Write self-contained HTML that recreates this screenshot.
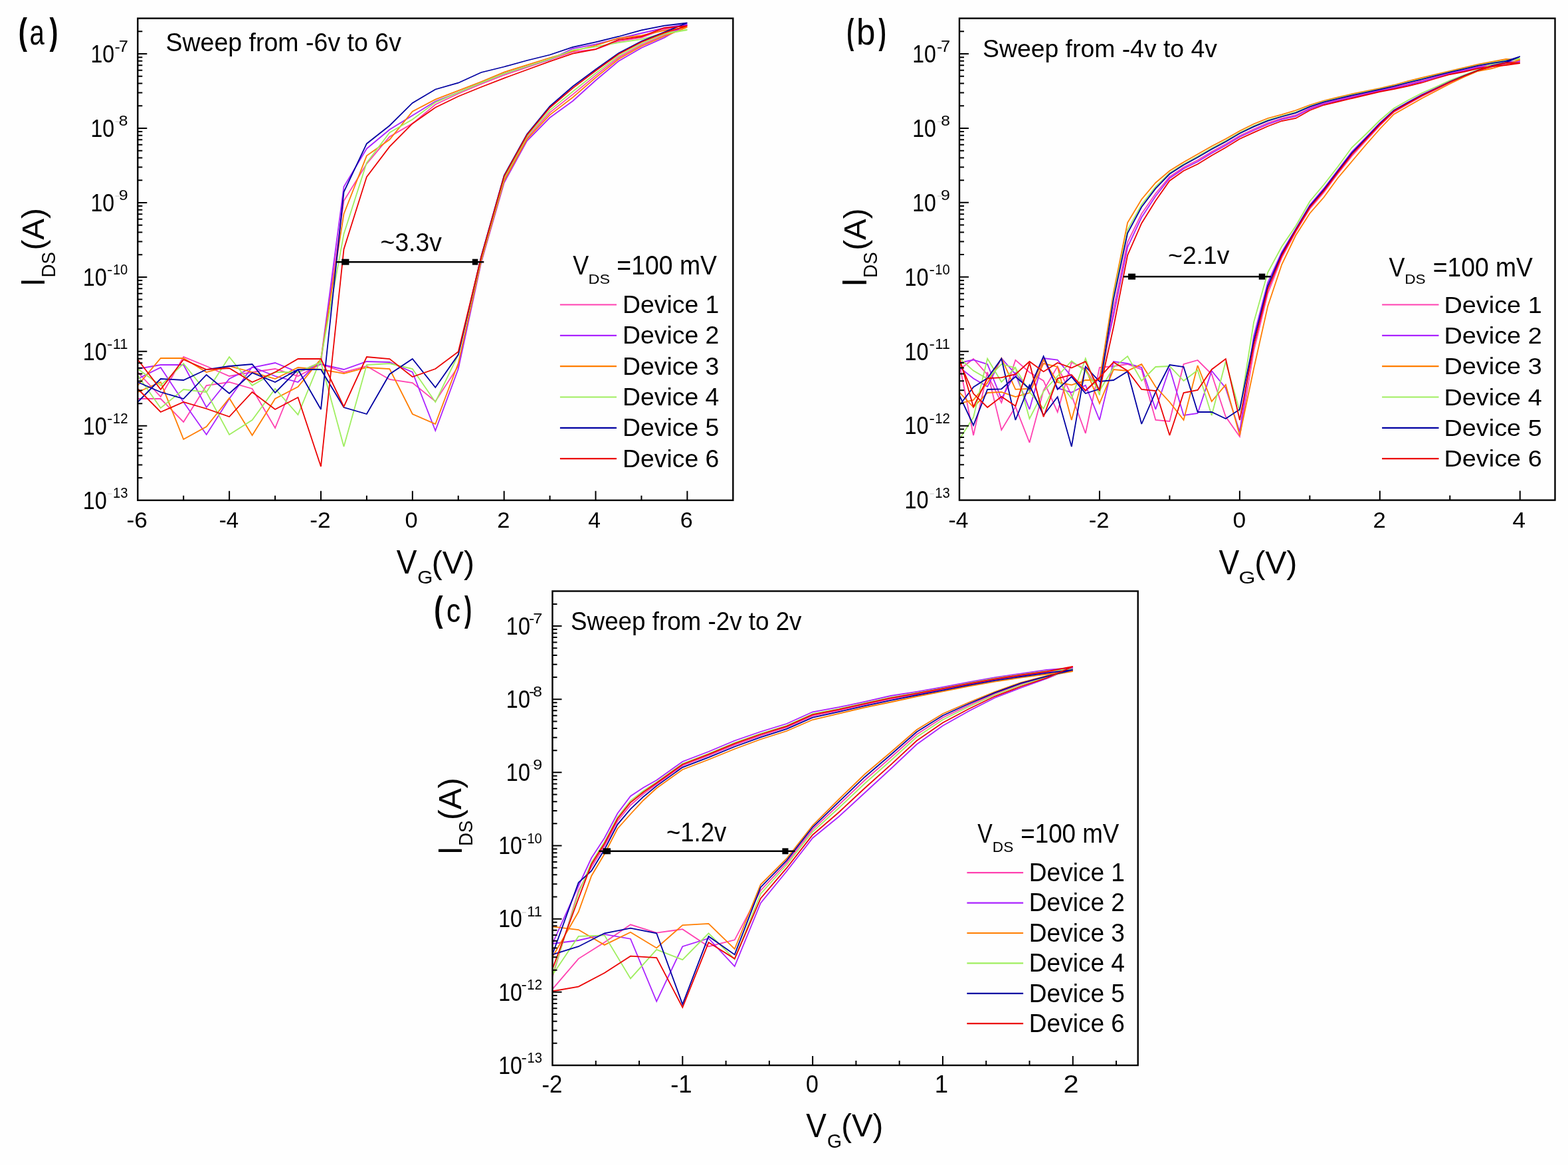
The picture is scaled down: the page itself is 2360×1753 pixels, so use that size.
<!DOCTYPE html>
<html><head><meta charset="utf-8"><title>Transfer curves</title>
<style>html,body{margin:0;padding:0;background:#fefefe;width:2360px;height:1753px;overflow:hidden;} svg{display:block;}</style>
</head><body><svg width="2360" height="1753" viewBox="0 0 2360 1753"><rect width="2360" height="1753" fill="#fefefe"/><path d="M207.3 560.0 L241.8 597.0 L276.2 537.0 L310.7 551.0 L345.1 566.0 L379.6 560.0 L414.1 555.0 L448.5 566.0 L483.0 548.0 L517.5 560.0 L551.9 551.0 L586.4 571.0 L620.8 576.0 L655.3 604.0 L689.8 551.0 L724.2 390.9 L758.7 270.1 L793.1 207.5 L827.6 169.3 L862.1 142.1 L896.5 113.6 L931.0 86.6 L965.5 67.5 L999.9 52.9 L1034.4 38.0 L999.9 44.0 L965.5 56.6 L931.0 62.0 L896.5 74.1 L862.1 78.2 L827.6 89.7 L793.1 101.4 L758.7 113.0 L724.2 126.5 L689.8 141.0 L655.3 157.2 L620.8 185.9 L586.4 205.6 L551.9 246.4 L517.5 302.4 L483.0 545.0 L448.5 560.0 L414.1 644.0 L379.6 585.0 L345.1 575.0 L310.7 580.0 L276.2 635.0 L241.8 600.0 L207.3 600.0" fill="none" stroke="#ff40b0" stroke-width="1.8" stroke-linejoin="miter" stroke-miterlimit="3"/>
<path d="M207.3 555.0 L241.8 549.0 L276.2 549.0 L310.7 613.0 L345.1 570.0 L379.6 553.0 L414.1 546.0 L448.5 560.0 L483.0 548.0 L517.5 556.0 L551.9 544.0 L586.4 545.0 L620.8 560.0 L655.3 648.0 L689.8 555.0 L724.2 395.0 L758.7 275.0 L793.1 212.0 L827.6 177.0 L862.1 152.0 L896.5 121.0 L931.0 92.0 L965.5 72.0 L999.9 56.6 L1034.4 36.6 L999.9 42.0 L965.5 50.0 L931.0 58.0 L896.5 66.6 L862.1 73.0 L827.6 89.7 L793.1 100.0 L758.7 110.8 L724.2 124.7 L689.8 139.0 L655.3 152.6 L620.8 173.8 L586.4 195.0 L551.9 223.7 L517.5 281.0 L483.0 542.0 L448.5 575.0 L414.1 566.0 L379.6 552.0 L345.1 600.0 L310.7 654.0 L276.2 605.0 L241.8 553.0 L207.3 570.0" fill="none" stroke="#aa22ff" stroke-width="1.8" stroke-linejoin="miter" stroke-miterlimit="3"/>
<path d="M207.3 580.0 L241.8 539.0 L276.2 539.0 L310.7 560.0 L345.1 551.0 L379.6 560.0 L414.1 570.0 L448.5 553.0 L483.0 556.0 L517.5 562.0 L551.9 553.0 L586.4 555.0 L620.8 623.0 L655.3 638.0 L689.8 546.6 L724.2 392.8 L758.7 272.2 L793.1 209.5 L827.6 172.8 L862.1 146.5 L896.5 116.9 L931.0 89.0 L965.5 69.5 L999.9 54.5 L1034.4 41.0 L999.9 45.8 L965.5 53.3 L931.0 57.4 L896.5 68.3 L862.1 77.0 L827.6 87.0 L793.1 97.8 L758.7 108.6 L724.2 123.0 L689.8 136.4 L655.3 149.6 L620.8 167.7 L586.4 210.1 L551.9 234.3 L517.5 322.0 L483.0 540.0 L448.5 582.0 L414.1 600.0 L379.6 655.0 L345.1 599.0 L310.7 642.0 L276.2 661.0 L241.8 575.0 L207.3 590.0" fill="none" stroke="#ff7d00" stroke-width="1.8" stroke-linejoin="miter" stroke-miterlimit="3"/>
<path d="M207.3 555.0 L241.8 580.0 L276.2 547.0 L310.7 590.0 L345.1 537.0 L379.6 580.0 L414.1 560.0 L448.5 560.0 L483.0 545.0 L517.5 672.0 L551.9 549.0 L586.4 547.0 L620.8 555.0 L655.3 605.0 L689.8 533.6 L724.2 389.1 L758.7 267.9 L793.1 205.5 L827.6 165.9 L862.1 137.7 L896.5 110.3 L931.0 84.2 L965.5 65.5 L999.9 51.2 L1034.4 45.0 L999.9 50.0 L965.5 59.1 L931.0 64.1 L896.5 70.3 L862.1 75.3 L827.6 88.8 L793.1 100.0 L758.7 110.8 L724.2 124.7 L689.8 139.1 L655.3 154.1 L620.8 179.8 L586.4 199.5 L551.9 244.9 L517.5 352.0 L483.0 540.0 L448.5 624.0 L414.1 585.0 L379.6 632.0 L345.1 654.0 L310.7 590.0 L276.2 586.0 L241.8 614.0 L207.3 565.0" fill="none" stroke="#9fee5f" stroke-width="1.8" stroke-linejoin="miter" stroke-miterlimit="3"/>
<path d="M207.3 605.0 L241.8 570.0 L276.2 572.0 L310.7 556.0 L345.1 551.0 L379.6 548.0 L414.1 591.0 L448.5 556.0 L483.0 556.0 L517.5 613.0 L551.9 623.0 L586.4 563.0 L620.8 540.0 L655.3 583.0 L689.8 533.6 L724.2 386.0 L758.7 264.0 L793.1 202.0 L827.6 160.0 L862.1 130.0 L896.5 104.5 L931.0 80.0 L965.5 62.0 L999.9 48.3 L1034.4 34.5 L999.9 38.7 L965.5 45.4 L931.0 55.0 L896.5 63.3 L862.1 70.8 L827.6 82.5 L793.1 91.0 L758.7 100.5 L724.2 109.0 L689.8 124.7 L655.3 134.5 L620.8 154.9 L586.4 189.0 L551.9 216.2 L517.5 288.8 L483.0 616.0 L448.5 556.0 L414.1 575.0 L379.6 561.0 L345.1 592.0 L310.7 564.0 L276.2 600.0 L241.8 590.0 L207.3 575.0" fill="none" stroke="#0000a2" stroke-width="1.8" stroke-linejoin="miter" stroke-miterlimit="3"/>
<path d="M207.3 541.0 L241.8 586.0 L276.2 541.0 L310.7 556.0 L345.1 554.0 L379.6 575.0 L414.1 560.0 L448.5 540.0 L483.0 540.0 L517.5 612.0 L551.9 537.0 L586.4 540.0 L620.8 567.0 L655.3 555.0 L689.8 529.2 L724.2 387.1 L758.7 265.3 L793.1 203.2 L827.6 162.0 L862.1 132.6 L896.5 106.5 L931.0 81.4 L965.5 63.2 L999.9 49.3 L1034.4 39.0 L999.9 42.0 L965.5 55.0 L931.0 59.9 L896.5 74.1 L862.1 80.7 L827.6 92.4 L793.1 105.0 L758.7 117.6 L724.2 131.0 L689.8 145.0 L655.3 161.7 L620.8 185.9 L586.4 220.7 L551.9 266.1 L517.5 375.0 L483.0 702.0 L448.5 598.0 L414.1 616.0 L379.6 590.0 L345.1 627.0 L310.7 615.0 L276.2 605.0 L241.8 620.0 L207.3 585.0" fill="none" stroke="#eb0000" stroke-width="1.8" stroke-linejoin="miter" stroke-miterlimit="3"/>
<path d="M1444.0 547.1 L1465.1 655.0 L1486.2 559.9 L1507.3 647.0 L1528.4 612.1 L1549.5 666.0 L1570.6 587.6 L1591.7 551.4 L1612.8 594.9 L1633.8 652.0 L1654.9 553.0 L1676.0 551.0 L1697.1 548.0 L1718.2 556.0 L1739.3 632.0 L1760.4 634.0 L1781.5 548.0 L1802.6 542.0 L1823.7 563.0 L1844.8 627.0 L1865.9 657.0 L1887.0 528.4 L1908.1 441.6 L1929.2 387.7 L1950.3 348.7 L1971.4 314.2 L1992.4 289.8 L2013.5 261.5 L2034.6 235.0 L2055.7 211.9 L2076.8 189.1 L2097.9 168.6 L2119.0 156.6 L2140.1 145.0 L2161.2 134.6 L2182.3 124.1 L2203.4 114.9 L2224.5 106.2 L2245.6 100.6 L2266.7 95.1 L2287.8 93.0 L2266.7 94.4 L2245.6 97.2 L2224.5 100.6 L2203.4 105.6 L2182.3 110.0 L2161.2 115.6 L2140.1 121.5 L2119.0 126.5 L2097.9 131.6 L2076.8 136.0 L2055.7 140.7 L2034.6 145.4 L2013.5 150.4 L1992.4 155.4 L1971.4 162.8 L1950.3 173.2 L1929.2 178.2 L1908.1 185.2 L1887.0 194.2 L1865.9 204.2 L1844.8 216.8 L1823.7 228.4 L1802.6 241.0 L1781.5 251.8 L1760.4 266.0 L1739.3 291.2 L1718.2 321.6 L1697.1 364.4 L1676.0 465.0 L1654.9 587.8 L1633.8 555.4 L1612.8 545.1 L1591.7 620.0 L1570.6 572.9 L1549.5 560.3 L1528.4 541.8 L1507.3 605.8 L1486.2 563.7 L1465.1 540.0 L1444.0 556.0" fill="none" stroke="#ff40b0" stroke-width="1.8" stroke-linejoin="miter" stroke-miterlimit="3"/>
<path d="M1444.0 552.6 L1465.1 569.5 L1486.2 581.8 L1507.3 539.0 L1528.4 563.1 L1549.5 616.0 L1570.6 540.4 L1591.7 583.9 L1612.8 590.5 L1633.8 579.7 L1654.9 632.0 L1676.0 544.0 L1697.1 547.0 L1718.2 553.0 L1739.3 616.0 L1760.4 554.0 L1781.5 625.0 L1802.6 622.0 L1823.7 558.0 L1844.8 584.0 L1865.9 650.0 L1887.0 506.0 L1908.1 425.3 L1929.2 379.1 L1950.3 344.2 L1971.4 308.4 L1992.4 283.7 L2013.5 256.1 L2034.6 228.3 L2055.7 206.8 L2076.8 184.9 L2097.9 165.7 L2119.0 153.7 L2140.1 142.4 L2161.2 132.6 L2182.3 122.5 L2203.4 113.9 L2224.5 105.6 L2245.6 98.5 L2266.7 93.5 L2287.8 92.0 L2266.7 95.8 L2245.6 98.2 L2224.5 101.5 L2203.4 106.5 L2182.3 110.8 L2161.2 116.5 L2140.1 122.6 L2119.0 127.6 L2097.9 132.5 L2076.8 136.8 L2055.7 141.6 L2034.6 146.4 L2013.5 151.4 L1992.4 156.4 L1971.4 164.0 L1950.3 175.0 L1929.2 179.6 L1908.1 187.0 L1887.0 196.2 L1865.9 206.0 L1844.8 218.8 L1823.7 230.5 L1802.6 243.2 L1781.5 253.8 L1760.4 268.2 L1739.3 295.2 L1718.2 327.0 L1697.1 371.8 L1676.0 475.0 L1654.9 568.7 L1633.8 588.4 L1612.8 566.4 L1591.7 541.6 L1570.6 539.0 L1549.5 587.3 L1528.4 561.1 L1507.3 600.0 L1486.2 548.1 L1465.1 541.5 L1444.0 545.8" fill="none" stroke="#aa22ff" stroke-width="1.8" stroke-linejoin="miter" stroke-miterlimit="3"/>
<path d="M1444.0 590.3 L1465.1 612.6 L1486.2 591.0 L1507.3 589.8 L1528.4 597.0 L1549.5 591.1 L1570.6 547.1 L1591.7 551.9 L1612.8 632.0 L1633.8 553.8 L1654.9 607.0 L1676.0 556.0 L1697.1 558.0 L1718.2 548.0 L1739.3 582.0 L1760.4 605.0 L1781.5 632.0 L1802.6 550.0 L1823.7 604.0 L1844.8 579.0 L1865.9 655.0 L1887.0 555.0 L1908.1 461.0 L1929.2 398.0 L1950.3 354.0 L1971.4 321.0 L1992.4 297.0 L2013.5 268.0 L2034.6 243.0 L2055.7 218.0 L2076.8 194.0 L2097.9 172.0 L2119.0 160.0 L2140.1 148.0 L2161.2 137.0 L2182.3 126.0 L2203.4 116.0 L2224.5 107.0 L2245.6 103.0 L2266.7 97.0 L2287.8 90.0 L2266.7 89.0 L2245.6 93.0 L2224.5 97.0 L2203.4 102.0 L2182.3 107.0 L2161.2 112.0 L2140.1 117.0 L2119.0 122.0 L2097.9 128.0 L2076.8 133.0 L2055.7 137.2 L2034.6 141.5 L2013.5 146.5 L1992.4 151.5 L1971.4 158.0 L1950.3 166.0 L1929.2 172.4 L1908.1 178.0 L1887.0 186.5 L1865.9 197.0 L1844.8 209.0 L1823.7 220.0 L1802.6 232.0 L1781.5 244.0 L1760.4 257.0 L1739.3 275.0 L1718.2 300.0 L1697.1 335.0 L1676.0 440.0 L1654.9 571.9 L1633.8 572.0 L1612.8 579.4 L1591.7 575.1 L1570.6 541.2 L1549.5 584.8 L1528.4 585.9 L1507.3 539.0 L1486.2 576.1 L1465.1 601.9 L1444.0 607.0" fill="none" stroke="#ff7d00" stroke-width="1.8" stroke-linejoin="miter" stroke-miterlimit="3"/>
<path d="M1444.0 661.0 L1465.1 628.0 L1486.2 539.5 L1507.3 574.8 L1528.4 553.1 L1549.5 630.0 L1570.6 588.9 L1591.7 566.0 L1612.8 543.2 L1633.8 558.6 L1654.9 588.0 L1676.0 553.0 L1697.1 536.0 L1718.2 573.0 L1739.3 552.0 L1760.4 551.0 L1781.5 573.0 L1802.6 557.0 L1823.7 625.0 L1844.8 544.0 L1865.9 619.0 L1887.0 485.0 L1908.1 410.0 L1929.2 371.0 L1950.3 340.0 L1971.4 303.0 L1992.4 278.0 L2013.5 251.0 L2034.6 222.0 L2055.7 202.0 L2076.8 181.0 L2097.9 163.0 L2119.0 151.0 L2140.1 140.0 L2161.2 130.7 L2182.3 121.0 L2203.4 113.0 L2224.5 105.0 L2245.6 96.6 L2266.7 92.0 L2287.8 88.0 L2266.7 91.0 L2245.6 94.5 L2224.5 98.3 L2203.4 103.3 L2182.3 108.1 L2161.2 113.3 L2140.1 118.7 L2119.0 123.7 L2097.9 129.3 L2076.8 134.1 L2055.7 138.5 L2034.6 142.9 L2013.5 147.9 L1992.4 152.9 L1971.4 159.8 L1950.3 168.6 L1929.2 174.5 L1908.1 180.6 L1887.0 189.3 L1865.9 199.6 L1844.8 211.9 L1823.7 223.1 L1802.6 235.3 L1781.5 246.9 L1760.4 260.3 L1739.3 280.9 L1718.2 307.9 L1697.1 345.8 L1676.0 445.0 L1654.9 594.5 L1633.8 539.4 L1612.8 600.0 L1591.7 570.6 L1570.6 614.8 L1549.5 589.8 L1528.4 553.7 L1507.3 548.0 L1486.2 570.0 L1465.1 557.8 L1444.0 539.0" fill="none" stroke="#9fee5f" stroke-width="1.8" stroke-linejoin="miter" stroke-miterlimit="3"/>
<path d="M1444.0 610.0 L1465.1 582.4 L1486.2 569.1 L1507.3 539.7 L1528.4 632.0 L1549.5 579.6 L1570.6 625.0 L1591.7 597.3 L1612.8 672.0 L1633.8 551.6 L1654.9 574.0 L1676.0 572.0 L1697.1 559.0 L1718.2 638.0 L1739.3 590.0 L1760.4 549.0 L1781.5 552.0 L1802.6 620.0 L1823.7 620.0 L1844.8 630.0 L1865.9 616.0 L1887.0 513.0 L1908.1 430.4 L1929.2 381.8 L1950.3 345.6 L1971.4 310.2 L1992.4 285.6 L2013.5 257.8 L2034.6 230.4 L2055.7 208.4 L2076.8 186.2 L2097.9 166.6 L2119.0 154.6 L2140.1 143.2 L2161.2 133.2 L2182.3 123.0 L2203.4 114.2 L2224.5 105.8 L2245.6 99.2 L2266.7 94.0 L2287.8 85.0 L2266.7 91.9 L2245.6 95.2 L2224.5 98.9 L2203.4 103.9 L2182.3 108.6 L2161.2 113.9 L2140.1 119.4 L2119.0 124.4 L2097.9 129.9 L2076.8 134.6 L2055.7 139.1 L2034.6 143.6 L2013.5 148.6 L1992.4 153.6 L1971.4 160.6 L1950.3 169.8 L1929.2 175.5 L1908.1 181.8 L1887.0 190.6 L1865.9 200.8 L1844.8 213.2 L1823.7 224.5 L1802.6 236.8 L1781.5 248.2 L1760.4 261.8 L1739.3 283.6 L1718.2 311.5 L1697.1 350.7 L1676.0 450.0 L1654.9 585.4 L1633.8 592.0 L1612.8 566.8 L1591.7 586.0 L1570.6 536.0 L1549.5 584.9 L1528.4 566.7 L1507.3 585.3 L1486.2 586.0 L1465.1 640.0 L1444.0 594.8" fill="none" stroke="#0000a2" stroke-width="1.8" stroke-linejoin="miter" stroke-miterlimit="3"/>
<path d="M1444.0 544.0 L1465.1 592.3 L1486.2 613.0 L1507.3 596.8 L1528.4 611.0 L1549.5 545.9 L1570.6 627.2 L1591.7 569.6 L1612.8 564.0 L1633.8 587.6 L1654.9 568.0 L1676.0 545.0 L1697.1 558.0 L1718.2 586.0 L1739.3 588.0 L1760.4 655.0 L1781.5 591.0 L1802.6 587.0 L1823.7 556.0 L1844.8 540.0 L1865.9 632.0 L1887.0 520.0 L1908.1 435.5 L1929.2 384.5 L1950.3 347.0 L1971.4 312.0 L1992.4 287.5 L2013.5 259.5 L2034.6 232.5 L2055.7 210.0 L2076.8 187.5 L2097.9 167.5 L2119.0 155.5 L2140.1 144.0 L2161.2 133.8 L2182.3 123.5 L2203.4 114.5 L2224.5 106.0 L2245.6 99.8 L2266.7 94.5 L2287.8 95.0 L2266.7 98.0 L2245.6 100.0 L2224.5 103.0 L2203.4 108.0 L2182.3 112.0 L2161.2 118.0 L2140.1 124.5 L2119.0 129.5 L2097.9 134.0 L2076.8 138.0 L2055.7 143.0 L2034.6 148.0 L2013.5 153.0 L1992.4 158.0 L1971.4 166.0 L1950.3 178.0 L1929.2 182.0 L1908.1 190.0 L1887.0 199.4 L1865.9 209.0 L1844.8 222.0 L1823.7 234.0 L1802.6 247.0 L1781.5 257.0 L1760.4 272.0 L1739.3 302.0 L1718.2 336.0 L1697.1 384.0 L1676.0 492.0 L1654.9 588.0 L1633.8 544.0 L1612.8 553.6 L1591.7 545.9 L1570.6 559.2 L1549.5 544.0 L1528.4 563.2 L1507.3 568.1 L1486.2 569.4 L1465.1 612.3 L1444.0 538.2" fill="none" stroke="#eb0000" stroke-width="1.8" stroke-linejoin="miter" stroke-miterlimit="3"/>
<path d="M831.5 1488.4 L870.7 1442.6 L909.8 1418.1 L949.0 1391.3 L988.2 1403.6 L1027.3 1398.2 L1066.5 1424.2 L1105.7 1414.3 L1144.8 1340.0 L1184.0 1298.1 L1223.1 1248.1 L1262.3 1211.3 L1301.5 1174.0 L1340.6 1140.0 L1379.8 1105.0 L1419.0 1079.8 L1458.1 1061.2 L1497.3 1043.9 L1536.5 1029.6 L1575.6 1018.3 L1614.8 1006.0 L1575.6 1011.2 L1536.5 1016.7 L1497.3 1022.5 L1458.1 1029.5 L1419.0 1037.2 L1379.8 1044.4 L1340.6 1051.8 L1301.5 1060.2 L1262.3 1069.0 L1223.1 1077.2 L1184.0 1094.5 L1144.8 1106.8 L1105.7 1120.8 L1066.5 1137.0 L1027.3 1152.0 L988.2 1180.0 L968.6 1194.5 L949.0 1211.5 L929.4 1235.5 L909.8 1273.0 L890.2 1304.5 L870.7 1340.0 L831.5 1470.0" fill="none" stroke="#ff40b0" stroke-width="1.8" stroke-linejoin="miter" stroke-miterlimit="3"/>
<path d="M831.5 1420.0 L870.7 1415.0 L909.8 1405.9 L949.0 1412.7 L988.2 1506.8 L1027.3 1424.2 L1066.5 1412.0 L1105.7 1454.0 L1144.8 1359.0 L1184.0 1311.0 L1223.1 1261.0 L1262.3 1229.0 L1301.5 1193.0 L1340.6 1157.0 L1379.8 1120.0 L1419.0 1092.0 L1458.1 1070.0 L1497.3 1050.0 L1536.5 1035.0 L1575.6 1021.0 L1614.8 1005.0 L1575.6 1008.0 L1536.5 1013.6 L1497.3 1019.4 L1458.1 1026.5 L1419.0 1034.0 L1379.8 1040.8 L1340.6 1047.0 L1301.5 1055.8 L1262.3 1064.2 L1223.1 1071.3 L1184.0 1089.0 L1144.8 1101.0 L1105.7 1114.5 L1066.5 1131.0 L1027.3 1146.0 L988.2 1174.0 L968.6 1185.0 L949.0 1198.0 L929.4 1224.0 L909.8 1261.0 L890.2 1291.0 L870.7 1333.0 L831.5 1420.0" fill="none" stroke="#aa22ff" stroke-width="1.8" stroke-linejoin="miter" stroke-miterlimit="3"/>
<path d="M831.5 1394.4 L870.7 1399.0 L909.8 1421.9 L949.0 1402.8 L988.2 1426.5 L1027.3 1392.1 L1066.5 1389.8 L1105.7 1428.0 L1144.8 1331.0 L1184.0 1292.0 L1223.1 1242.0 L1262.3 1203.0 L1301.5 1165.0 L1340.6 1132.0 L1379.8 1098.0 L1419.0 1074.0 L1458.1 1057.0 L1497.3 1041.0 L1536.5 1027.0 L1575.6 1017.0 L1614.8 1010.0 L1575.6 1014.5 L1536.5 1019.7 L1497.3 1025.6 L1458.1 1032.5 L1419.0 1040.4 L1379.8 1048.0 L1340.6 1056.5 L1301.5 1064.5 L1262.3 1073.8 L1223.1 1083.0 L1184.0 1100.0 L1144.8 1112.5 L1105.7 1127.0 L1066.5 1143.0 L1027.3 1158.0 L988.2 1186.0 L968.6 1204.0 L949.0 1225.0 L929.4 1247.0 L909.8 1285.0 L890.2 1318.0 L870.7 1372.0 L831.5 1440.0" fill="none" stroke="#ff7d00" stroke-width="1.8" stroke-linejoin="miter" stroke-miterlimit="3"/>
<path d="M831.5 1467.0 L870.7 1408.9 L909.8 1407.4 L949.0 1472.4 L988.2 1428.8 L1027.3 1444.1 L1066.5 1404.3 L1105.7 1443.3 L1144.8 1345.0 L1184.0 1301.5 L1223.1 1251.5 L1262.3 1216.0 L1301.5 1179.0 L1340.6 1144.5 L1379.8 1109.0 L1419.0 1083.0 L1458.1 1063.5 L1497.3 1045.5 L1536.5 1031.0 L1575.6 1019.0 L1614.8 1007.0 L1575.6 1009.6 L1536.5 1015.1 L1497.3 1020.9 L1458.1 1028.0 L1419.0 1035.6 L1379.8 1042.6 L1340.6 1049.4 L1301.5 1058.0 L1262.3 1066.6 L1223.1 1074.2 L1184.0 1091.8 L1144.8 1103.9 L1105.7 1117.6 L1066.5 1134.0 L1027.3 1149.0 L988.2 1177.0 L968.6 1189.8 L949.0 1204.8 L929.4 1229.8 L909.8 1267.0 L890.2 1297.8 L870.7 1344.0 L831.5 1467.0" fill="none" stroke="#9fee5f" stroke-width="1.8" stroke-linejoin="miter" stroke-miterlimit="3"/>
<path d="M831.5 1436.4 L870.7 1424.2 L909.8 1404.3 L949.0 1396.7 L988.2 1404.3 L1027.3 1511.4 L1066.5 1408.9 L1105.7 1436.4 L1144.8 1335.2 L1184.0 1294.8 L1223.1 1244.8 L1262.3 1206.9 L1301.5 1169.2 L1340.6 1135.8 L1379.8 1101.3 L1419.0 1076.7 L1458.1 1059.0 L1497.3 1042.3 L1536.5 1028.2 L1575.6 1017.6 L1614.8 1008.0 L1575.6 1012.7 L1536.5 1018.0 L1497.3 1023.9 L1458.1 1030.8 L1419.0 1038.6 L1379.8 1046.0 L1340.6 1053.8 L1301.5 1062.1 L1262.3 1071.1 L1223.1 1079.7 L1184.0 1096.9 L1144.8 1109.3 L1105.7 1123.5 L1066.5 1139.6 L1027.3 1154.6 L988.2 1182.6 L968.6 1198.7 L949.0 1217.4 L929.4 1240.6 L909.8 1278.3 L890.2 1310.4 L870.7 1328.0 L831.5 1436.0" fill="none" stroke="#0000a2" stroke-width="1.8" stroke-linejoin="miter" stroke-miterlimit="3"/>
<path d="M831.5 1491.5 L870.7 1484.6 L909.8 1464.0 L949.0 1438.7 L988.2 1441.0 L1027.3 1515.9 L1066.5 1418.1 L1105.7 1442.6 L1144.8 1352.0 L1184.0 1306.2 L1223.1 1256.2 L1262.3 1222.5 L1301.5 1186.0 L1340.6 1150.8 L1379.8 1114.5 L1419.0 1087.5 L1458.1 1066.8 L1497.3 1047.8 L1536.5 1033.0 L1575.6 1020.0 L1614.8 1003.0 L1575.6 1010.3 L1536.5 1015.7 L1497.3 1021.6 L1458.1 1028.6 L1419.0 1036.2 L1379.8 1043.3 L1340.6 1050.3 L1301.5 1058.8 L1262.3 1067.6 L1223.1 1075.4 L1184.0 1092.8 L1144.8 1105.0 L1105.7 1118.9 L1066.5 1135.2 L1027.3 1150.2 L988.2 1178.2 L968.6 1191.7 L949.0 1207.5 L929.4 1232.0 L909.8 1269.4 L890.2 1300.5 L870.7 1352.0 L831.5 1458.0" fill="none" stroke="#eb0000" stroke-width="1.8" stroke-linejoin="miter" stroke-miterlimit="3"/>
<rect x="207.30" y="27.60" width="896.00" height="725.20" fill="none" stroke="#000" stroke-width="2.4"/>
<path d="M207.30 719.10h7 M207.30 699.38h7 M207.30 685.39h7 M207.30 674.54h7 M207.30 665.68h7 M207.30 658.18h7 M207.30 651.69h7 M207.30 645.96h7 M207.30 640.84h14 M207.30 607.13h7 M207.30 587.42h7 M207.30 573.43h7 M207.30 562.58h7 M207.30 553.71h7 M207.30 546.22h7 M207.30 539.72h7 M207.30 534.00h7 M207.30 528.87h14 M207.30 495.17h7 M207.30 475.45h7 M207.30 461.46h7 M207.30 450.61h7 M207.30 441.75h7 M207.30 434.25h7 M207.30 427.76h7 M207.30 422.03h7 M207.30 416.91h14 M207.30 383.21h7 M207.30 363.49h7 M207.30 349.50h7 M207.30 338.65h7 M207.30 329.79h7 M207.30 322.29h7 M207.30 315.80h7 M207.30 310.07h7 M207.30 304.95h14 M207.30 271.24h7 M207.30 251.53h7 M207.30 237.54h7 M207.30 226.69h7 M207.30 217.82h7 M207.30 210.33h7 M207.30 203.83h7 M207.30 198.11h7 M207.30 192.98h14 M207.30 159.28h7 M207.30 139.56h7 M207.30 125.57h7 M207.30 114.72h7 M207.30 105.86h7 M207.30 98.36h7 M207.30 91.87h7 M207.30 86.14h7 M207.30 81.02h14 M207.30 47.32h7 M345.15 752.80v-14 M482.99 752.80v-14 M620.84 752.80v-14 M758.68 752.80v-14 M896.53 752.80v-14 M1034.38 752.80v-14 M276.22 752.80v-7 M414.07 752.80v-7 M551.92 752.80v-7 M689.76 752.80v-7 M827.61 752.80v-7 M965.45 752.80v-7" stroke="#000" stroke-width="2" fill="none"/>
<rect x="1444.00" y="27.60" width="896.50" height="725.00" fill="none" stroke="#000" stroke-width="2.4"/>
<path d="M1444.00 718.90h7 M1444.00 699.19h7 M1444.00 685.21h7 M1444.00 674.36h7 M1444.00 665.50h7 M1444.00 658.01h7 M1444.00 651.51h7 M1444.00 645.79h7 M1444.00 640.67h14 M1444.00 606.97h7 M1444.00 587.26h7 M1444.00 573.28h7 M1444.00 562.43h7 M1444.00 553.57h7 M1444.00 546.07h7 M1444.00 539.58h7 M1444.00 533.86h7 M1444.00 528.74h14 M1444.00 495.04h7 M1444.00 475.33h7 M1444.00 461.35h7 M1444.00 450.50h7 M1444.00 441.63h7 M1444.00 434.14h7 M1444.00 427.65h7 M1444.00 421.92h7 M1444.00 416.80h14 M1444.00 383.11h7 M1444.00 363.40h7 M1444.00 349.41h7 M1444.00 338.57h7 M1444.00 329.70h7 M1444.00 322.21h7 M1444.00 315.72h7 M1444.00 309.99h7 M1444.00 304.87h14 M1444.00 271.18h7 M1444.00 251.46h7 M1444.00 237.48h7 M1444.00 226.63h7 M1444.00 217.77h7 M1444.00 210.28h7 M1444.00 203.79h7 M1444.00 198.06h7 M1444.00 192.94h14 M1444.00 159.24h7 M1444.00 139.53h7 M1444.00 125.55h7 M1444.00 114.70h7 M1444.00 105.84h7 M1444.00 98.34h7 M1444.00 91.85h7 M1444.00 86.13h7 M1444.00 81.01h14 M1444.00 47.31h7 M1654.94 752.60v-14 M1865.88 752.60v-14 M2076.82 752.60v-14 M2287.76 752.60v-14 M1549.47 752.60v-7 M1760.41 752.60v-7 M1971.35 752.60v-7 M2182.29 752.60v-7" stroke="#000" stroke-width="2" fill="none"/>
<rect x="831.50" y="889.50" width="881.20" height="713.50" fill="none" stroke="#000" stroke-width="2.4"/>
<path d="M831.50 1569.84h7 M831.50 1550.44h7 M831.50 1536.68h7 M831.50 1526.00h7 M831.50 1517.28h7 M831.50 1509.91h7 M831.50 1503.52h7 M831.50 1497.88h7 M831.50 1492.84h14 M831.50 1459.68h7 M831.50 1440.28h7 M831.50 1426.52h7 M831.50 1415.85h7 M831.50 1407.12h7 M831.50 1399.75h7 M831.50 1393.36h7 M831.50 1387.73h7 M831.50 1382.69h14 M831.50 1349.53h7 M831.50 1330.13h7 M831.50 1316.36h7 M831.50 1305.69h7 M831.50 1296.97h7 M831.50 1289.59h7 M831.50 1283.20h7 M831.50 1277.57h7 M831.50 1272.53h14 M831.50 1239.37h7 M831.50 1219.97h7 M831.50 1206.21h7 M831.50 1195.53h7 M831.50 1186.81h7 M831.50 1179.44h7 M831.50 1173.05h7 M831.50 1167.41h7 M831.50 1162.37h14 M831.50 1129.21h7 M831.50 1109.81h7 M831.50 1096.05h7 M831.50 1085.38h7 M831.50 1076.65h7 M831.50 1069.28h7 M831.50 1062.89h7 M831.50 1057.26h7 M831.50 1052.22h14 M831.50 1019.05h7 M831.50 999.66h7 M831.50 985.89h7 M831.50 975.22h7 M831.50 966.50h7 M831.50 959.12h7 M831.50 952.73h7 M831.50 947.10h7 M831.50 942.06h14 M831.50 908.90h7 M1027.32 1603.00v-14 M1223.14 1603.00v-14 M1418.97 1603.00v-14 M1614.79 1603.00v-14 M896.77 1603.00v-7 M962.05 1603.00v-7 M1092.60 1603.00v-7 M1157.87 1603.00v-7 M1288.42 1603.00v-7 M1353.69 1603.00v-7 M1484.24 1603.00v-7 M1549.51 1603.00v-7 M1680.06 1603.00v-7" stroke="#000" stroke-width="2" fill="none"/>
<g font-family="Liberation Sans, Arial, sans-serif">
<text transform="translate(27.72,65.91) scale(0.7221,1)" font-size="54.91" font-weight="bold">(</text>
<text transform="translate(44.59,66.88) scale(0.7668,1)" font-size="52.42">a</text>
<text transform="translate(74.50,65.91) scale(0.7025,1)" font-size="54.91" font-weight="bold">)</text>
<text transform="translate(124.76,765.60) scale(0.8990,1)" font-size="36.13">10</text>
<text transform="translate(161.06,749.30) scale(1.1032,1)" font-size="22.94" fill="#dcdcdc">-</text>
<text transform="translate(169.88,749.30) scale(0.8829,1)" font-size="22.94">13</text>
<text transform="translate(124.76,653.64) scale(0.8990,1)" font-size="36.13">10</text>
<text transform="translate(161.06,637.34) scale(1.1032,1)" font-size="22.94">-</text>
<text transform="translate(169.87,637.34) scale(0.8896,1)" font-size="22.94">12</text>
<text transform="translate(124.76,541.67) scale(0.8990,1)" font-size="36.13">10</text>
<text transform="translate(161.06,525.37) scale(1.1032,1)" font-size="22.94">-</text>
<text transform="translate(169.75,525.37) scale(0.9576,1)" font-size="22.94">11</text>
<text transform="translate(124.76,429.71) scale(0.8990,1)" font-size="36.13">10</text>
<text transform="translate(161.06,413.41) scale(1.1032,1)" font-size="22.94">-</text>
<text transform="translate(169.89,413.41) scale(0.8784,1)" font-size="22.94">10</text>
<text transform="translate(136.49,317.75) scale(0.8879,1)" font-size="36.13">10</text>
<text transform="translate(172.56,301.45) scale(1.1032,1)" font-size="22.94" fill="#dcdcdc">-</text>
<text transform="translate(178.71,301.45) scale(1.0934,1)" font-size="22.94">9</text>
<text transform="translate(136.49,205.78) scale(0.8879,1)" font-size="36.13">10</text>
<text transform="translate(172.56,189.48) scale(1.1032,1)" font-size="22.94" fill="#dcdcdc">-</text>
<text transform="translate(178.85,189.48) scale(1.0759,1)" font-size="22.94">8</text>
<text transform="translate(136.49,93.82) scale(0.8879,1)" font-size="36.13">10</text>
<text transform="translate(172.56,77.52) scale(1.1032,1)" font-size="22.94">-</text>
<text transform="translate(178.63,77.52) scale(1.0955,1)" font-size="23.27">7</text>
<text transform="translate(249.41,76.70) scale(0.9768,1)" font-size="38.42">Sweep from -6v to 6v</text>
<text transform="translate(572.62,378.20) scale(0.9631,1)" font-size="38.71">~3.3v</text>
<line x1="505.7" y1="394.2" x2="728.3" y2="394.2" stroke="#000" stroke-width="2.6"/>
<rect x="514.2" y="389.7" width="11.2" height="9" fill="#000"/>
<rect x="710.9" y="389.7" width="8.4" height="9" fill="#000"/>
<text transform="translate(862.22,413.40) scale(0.8973,1)" font-size="40.00">V</text>
<text transform="translate(885.47,426.80) scale(1.1194,1)" font-size="20.95">DS</text>
<text transform="translate(928.32,413.40) scale(0.9346,1)" font-size="40.00">=100 mV</text>
<line x1="842.9" y1="458.5" x2="928.0" y2="458.5" stroke="#ff40b0" stroke-width="2.2"/>
<line x1="842.9" y1="504.9" x2="928.0" y2="504.9" stroke="#aa22ff" stroke-width="2.2"/>
<line x1="842.9" y1="551.2" x2="928.0" y2="551.2" stroke="#ff7d00" stroke-width="2.2"/>
<line x1="842.9" y1="597.5" x2="928.0" y2="597.5" stroke="#9fee5f" stroke-width="2.2"/>
<line x1="842.9" y1="643.9" x2="928.0" y2="643.9" stroke="#0000a2" stroke-width="2.2"/>
<line x1="842.9" y1="690.2" x2="928.0" y2="690.2" stroke="#eb0000" stroke-width="2.2"/>
<text transform="translate(937.02,471.00) scale(1.0275,1)" font-size="36.36">Device 1</text>
<text transform="translate(937.02,517.35) scale(1.0275,1)" font-size="36.36">Device 2</text>
<text transform="translate(937.02,563.70) scale(1.0275,1)" font-size="36.36">Device 3</text>
<text transform="translate(937.02,610.05) scale(1.0275,1)" font-size="36.36">Device 4</text>
<text transform="translate(937.02,656.40) scale(1.0275,1)" font-size="36.36">Device 5</text>
<text transform="translate(937.02,702.75) scale(1.0275,1)" font-size="36.36">Device 6</text>
<text transform="translate(190.41,793.60) scale(1.0728,1)" font-size="32.97">-6</text>
<text transform="translate(329.81,793.60) scale(1.0009,1)" font-size="32.97">-4</text>
<text transform="translate(466.21,793.60) scale(1.0715,1)" font-size="32.97">-2</text>
<text transform="translate(609.62,793.60) scale(1.0479,1)" font-size="32.97">0</text>
<text transform="translate(748.27,793.60) scale(1.0464,1)" font-size="32.97">2</text>
<text transform="translate(885.14,793.60) scale(1.0209,1)" font-size="32.97">4</text>
<text transform="translate(1023.79,793.60) scale(1.0360,1)" font-size="32.97">6</text>
<text transform="translate(596.77,862.90) scale(0.9130,1)" font-size="50.47">V</text>
<text transform="translate(628.31,878.20) scale(1.0972,1)" font-size="27.10">G</text>
<text transform="translate(649.79,862.61) scale(1.0007,1)" font-size="48.15">(V)</text>
<g transform="rotate(-90)"><text transform="translate(-431.30,67.00) scale(0.9370,1)" font-size="50.76">I</text></g>
<g transform="rotate(-90)"><text transform="translate(-417.58,83.00) scale(0.9093,1)" font-size="30.40">DS</text></g>
<g transform="rotate(-90)"><text transform="translate(-376.58,66.00) scale(1.0181,1)" font-size="46.76">(A)</text></g>
<text transform="translate(1274.59,65.53) scale(0.5984,1)" font-size="53.83" font-weight="bold">(</text>
<text transform="translate(1289.08,67.24) scale(0.9140,1)" font-size="55.92">b</text>
<text transform="translate(1322.42,65.53) scale(0.6236,1)" font-size="53.83" font-weight="bold">)</text>
<text transform="translate(1361.46,765.40) scale(0.8990,1)" font-size="36.13">10</text>
<text transform="translate(1398.46,749.10) scale(1.1032,1)" font-size="22.94" fill="#dcdcdc">-</text>
<text transform="translate(1407.28,749.10) scale(0.8829,1)" font-size="22.94">13</text>
<text transform="translate(1361.46,653.47) scale(0.8990,1)" font-size="36.13">10</text>
<text transform="translate(1398.46,637.17) scale(1.1032,1)" font-size="22.94">-</text>
<text transform="translate(1407.27,637.17) scale(0.8896,1)" font-size="22.94">12</text>
<text transform="translate(1361.46,541.54) scale(0.8990,1)" font-size="36.13">10</text>
<text transform="translate(1398.46,525.24) scale(1.1032,1)" font-size="22.94">-</text>
<text transform="translate(1407.15,525.24) scale(0.9576,1)" font-size="22.94">11</text>
<text transform="translate(1361.46,429.60) scale(0.8990,1)" font-size="36.13">10</text>
<text transform="translate(1398.46,413.30) scale(1.1032,1)" font-size="22.94">-</text>
<text transform="translate(1407.29,413.30) scale(0.8784,1)" font-size="22.94">10</text>
<text transform="translate(1373.19,317.67) scale(0.8879,1)" font-size="36.13">10</text>
<text transform="translate(1409.96,301.37) scale(1.1032,1)" font-size="22.94" fill="#dcdcdc">-</text>
<text transform="translate(1416.11,301.37) scale(1.0934,1)" font-size="22.94">9</text>
<text transform="translate(1373.19,205.74) scale(0.8879,1)" font-size="36.13">10</text>
<text transform="translate(1409.96,189.44) scale(1.1032,1)" font-size="22.94" fill="#dcdcdc">-</text>
<text transform="translate(1416.25,189.44) scale(1.0759,1)" font-size="22.94">8</text>
<text transform="translate(1373.19,93.81) scale(0.8879,1)" font-size="36.13">10</text>
<text transform="translate(1409.96,77.51) scale(1.1032,1)" font-size="22.94">-</text>
<text transform="translate(1416.03,77.51) scale(1.0955,1)" font-size="23.27">7</text>
<text transform="translate(1479.02,86.30) scale(0.9871,1)" font-size="37.85">Sweep from -4v to 4v</text>
<text transform="translate(1758.12,397.10) scale(1.0278,1)" font-size="36.27">~2.1v</text>
<line x1="1690.7" y1="416.2" x2="1912.7" y2="416.2" stroke="#000" stroke-width="2.6"/>
<rect x="1698.0" y="411.7" width="11.0" height="9" fill="#000"/>
<rect x="1894.7" y="411.7" width="9.6" height="9" fill="#000"/>
<text transform="translate(2090.52,415.50) scale(0.8973,1)" font-size="40.00">V</text>
<text transform="translate(2114.23,426.80) scale(1.0815,1)" font-size="20.95">DS</text>
<text transform="translate(2156.63,415.50) scale(0.9327,1)" font-size="40.00">=100 mV</text>
<line x1="2080.1" y1="458.5" x2="2165.5" y2="458.5" stroke="#ff40b0" stroke-width="2.2"/>
<line x1="2080.1" y1="504.9" x2="2165.5" y2="504.9" stroke="#aa22ff" stroke-width="2.2"/>
<line x1="2080.1" y1="551.2" x2="2165.5" y2="551.2" stroke="#ff7d00" stroke-width="2.2"/>
<line x1="2080.1" y1="597.5" x2="2165.5" y2="597.5" stroke="#9fee5f" stroke-width="2.2"/>
<line x1="2080.1" y1="643.9" x2="2165.5" y2="643.9" stroke="#0000a2" stroke-width="2.2"/>
<line x1="2080.1" y1="690.2" x2="2165.5" y2="690.2" stroke="#eb0000" stroke-width="2.2"/>
<text transform="translate(2173.38,470.60) scale(1.0715,1)" font-size="35.35">Device 1</text>
<text transform="translate(2173.38,516.95) scale(1.0715,1)" font-size="35.35">Device 2</text>
<text transform="translate(2173.38,563.30) scale(1.0715,1)" font-size="35.35">Device 3</text>
<text transform="translate(2173.38,609.65) scale(1.0715,1)" font-size="35.35">Device 4</text>
<text transform="translate(2173.38,656.00) scale(1.0715,1)" font-size="35.35">Device 5</text>
<text transform="translate(2173.38,702.35) scale(1.0715,1)" font-size="35.35">Device 6</text>
<text transform="translate(1427.59,793.80) scale(0.9979,1)" font-size="33.69">-4</text>
<text transform="translate(1638.84,793.80) scale(1.0262,1)" font-size="33.69">-2</text>
<text transform="translate(1855.48,793.80) scale(1.0505,1)" font-size="33.69">0</text>
<text transform="translate(2066.46,793.80) scale(1.0307,1)" font-size="33.69">2</text>
<text transform="translate(2276.61,793.80) scale(1.0462,1)" font-size="33.69">4</text>
<text transform="translate(1834.47,863.50) scale(0.8975,1)" font-size="51.35">V</text>
<text transform="translate(1864.40,877.80) scale(1.2208,1)" font-size="26.24">G</text>
<text transform="translate(1888.19,862.61) scale(1.0007,1)" font-size="48.15">(V)</text>
<g transform="rotate(-90)"><text transform="translate(-431.90,1304.20) scale(1.0164,1)" font-size="51.05">I</text></g>
<g transform="rotate(-90)"><text transform="translate(-417.89,1320.00) scale(0.9279,1)" font-size="29.96">DS</text></g>
<g transform="rotate(-90)"><text transform="translate(-376.77,1303.00) scale(1.0164,1)" font-size="46.76">(A)</text></g>
<text transform="translate(653.28,934.70) scale(0.7407,1)" font-size="54.48" font-weight="bold">(</text>
<text transform="translate(672.10,936.20) scale(0.8427,1)" font-size="50.23">c</text>
<text transform="translate(699.02,934.70) scale(0.6097,1)" font-size="54.48" font-weight="bold">)</text>
<text transform="translate(750.29,1615.70) scale(0.8809,1)" font-size="36.42">10</text>
<text transform="translate(784.56,1599.00) scale(1.1315,1)" font-size="22.37">-</text>
<text transform="translate(793.38,1599.00) scale(0.9055,1)" font-size="22.37">13</text>
<text transform="translate(750.29,1505.54) scale(0.8809,1)" font-size="36.42">10</text>
<text transform="translate(784.56,1488.84) scale(1.1315,1)" font-size="22.37">-</text>
<text transform="translate(793.37,1488.84) scale(0.9124,1)" font-size="22.37">12</text>
<text transform="translate(750.29,1395.39) scale(0.8809,1)" font-size="36.42">10</text>
<text transform="translate(784.56,1378.69) scale(1.1315,1)" font-size="22.37" fill="#dcdcdc">-</text>
<text transform="translate(793.25,1378.69) scale(0.9822,1)" font-size="22.37">11</text>
<text transform="translate(750.29,1285.23) scale(0.8809,1)" font-size="36.42">10</text>
<text transform="translate(784.56,1268.53) scale(1.1315,1)" font-size="22.37">-</text>
<text transform="translate(793.39,1268.53) scale(0.9010,1)" font-size="22.37">10</text>
<text transform="translate(761.87,1175.07) scale(0.8892,1)" font-size="36.42">10</text>
<text transform="translate(796.06,1158.37) scale(1.1315,1)" font-size="22.37" fill="#dcdcdc">-</text>
<text transform="translate(802.21,1158.37) scale(1.1214,1)" font-size="22.37">9</text>
<text transform="translate(761.87,1064.92) scale(0.8892,1)" font-size="36.42">10</text>
<text transform="translate(796.06,1048.22) scale(1.1315,1)" font-size="22.37">-</text>
<text transform="translate(802.35,1048.22) scale(1.1035,1)" font-size="22.37">8</text>
<text transform="translate(761.87,954.76) scale(0.8892,1)" font-size="36.42">10</text>
<text transform="translate(796.06,938.06) scale(1.1315,1)" font-size="22.37">-</text>
<text transform="translate(802.13,938.06) scale(1.1236,1)" font-size="22.69">7</text>
<text transform="translate(859.04,948.00) scale(0.9503,1)" font-size="38.71">Sweep from -2v to 2v</text>
<text transform="translate(1002.96,1265.90) scale(0.9102,1)" font-size="40.15">~1.2v</text>
<line x1="901.4" y1="1280.8" x2="1196.5" y2="1280.8" stroke="#000" stroke-width="2.6"/>
<rect x="907.5" y="1276.3" width="11.5" height="9" fill="#000"/>
<rect x="1177.4" y="1276.3" width="9.1" height="9" fill="#000"/>
<text transform="translate(1471.13,1268.10) scale(0.8441,1)" font-size="40.00">V</text>
<text transform="translate(1493.83,1281.90) scale(1.0523,1)" font-size="21.53">DS</text>
<text transform="translate(1536.25,1268.10) scale(0.9189,1)" font-size="40.00">=100 mV</text>
<line x1="1455.4" y1="1313.2" x2="1540.1" y2="1313.2" stroke="#ff40b0" stroke-width="2.2"/>
<line x1="1455.4" y1="1358.6" x2="1540.1" y2="1358.6" stroke="#aa22ff" stroke-width="2.2"/>
<line x1="1455.4" y1="1404.0" x2="1540.1" y2="1404.0" stroke="#ff7d00" stroke-width="2.2"/>
<line x1="1455.4" y1="1449.4" x2="1540.1" y2="1449.4" stroke="#9fee5f" stroke-width="2.2"/>
<line x1="1455.4" y1="1494.8" x2="1540.1" y2="1494.8" stroke="#0000a2" stroke-width="2.2"/>
<line x1="1455.4" y1="1540.2" x2="1540.1" y2="1540.2" stroke="#eb0000" stroke-width="2.2"/>
<text transform="translate(1548.85,1326.00) scale(0.9323,1)" font-size="39.71">Device 1</text>
<text transform="translate(1548.85,1371.40) scale(0.9323,1)" font-size="39.71">Device 2</text>
<text transform="translate(1548.85,1416.80) scale(0.9323,1)" font-size="39.71">Device 3</text>
<text transform="translate(1548.85,1462.20) scale(0.9323,1)" font-size="39.71">Device 4</text>
<text transform="translate(1548.85,1507.60) scale(0.9323,1)" font-size="39.71">Device 5</text>
<text transform="translate(1548.85,1553.00) scale(0.9323,1)" font-size="39.71">Device 6</text>
<text transform="translate(815.43,1644.00) scale(0.9526,1)" font-size="36.56">-2</text>
<text transform="translate(1009.13,1644.00) scale(0.9993,1)" font-size="36.56">-1</text>
<text transform="translate(1212.94,1644.00) scale(0.9280,1)" font-size="36.56">0</text>
<text transform="translate(1406.81,1644.00) scale(0.9993,1)" font-size="36.56">1</text>
<text transform="translate(1600.42,1644.00) scale(1.1362,1)" font-size="36.56">2</text>
<text transform="translate(1213.27,1710.70) scale(0.9127,1)" font-size="50.33">V</text>
<text transform="translate(1244.88,1726.70) scale(0.9694,1)" font-size="29.25">G</text>
<text transform="translate(1266.24,1710.31) scale(1.0036,1)" font-size="47.18">(V)</text>
<g transform="rotate(-90)"><text transform="translate(-1286.60,694.70) scale(0.9397,1)" font-size="50.62">I</text></g>
<g transform="rotate(-90)"><text transform="translate(-1272.88,710.70) scale(0.9137,1)" font-size="30.25">DS</text></g>
<g transform="rotate(-90)"><text transform="translate(-1233.88,694.11) scale(1.0106,1)" font-size="47.18">(A)</text></g>
</g></svg></body></html>
